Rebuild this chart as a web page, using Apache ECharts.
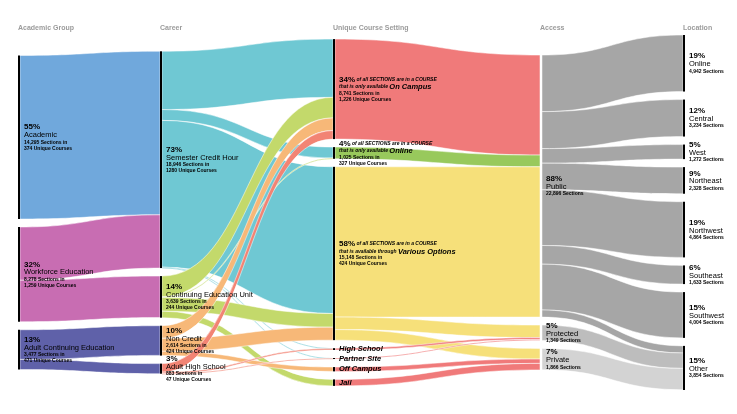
<!DOCTYPE html>
<html><head><meta charset="utf-8">
<script src="https://cdn.jsdelivr.net/npm/echarts@6/dist/echarts.min.js"></script>
<style>html,body{margin:0;padding:0;background:#fff}#c{width:737px;height:414px}</style>
</head><body><div id="c"></div>
<script>
// ---- data ----
const columnTitles = ['Academic Group', 'Career', 'Unique Course Setting', 'Access', 'Location'];

const groupNames = ['Academic', 'Workforce Education', 'Adult Continuing Education'];
const groupPct = ['55%', '32%', '13%'];
const groupSections = [14295, 8278, 3477];
const groupCourses = ['374', '1,259', '471'];

const careerNames = ['Semester Credit Hour', 'Continuing Education Unit', 'Non Credit', 'Adult High School'];
const careerPct = ['73%', '14%', '10%', '3%'];
const careerSections = [18946, 3639, 2614, 883];
const careerCourses = ['1280', '244', '424', '47'];

const settingNames = ['On Campus', 'Online', 'Various Options', 'High School', 'Partner Site', 'Off Campus', 'Jail'];
const settingPct = ['34%', '4%', '58%', '', '', '', ''];
const settingSections = [8741, 1025, 15148, 160, 93, 380, 570];
const settingCourses = ['1,226', '327', '424', '', '', '', ''];
const settingPhrase = ['that is only available', 'that is only available', 'that is available through', '', '', '', ''];

const accessNames = ['Public', 'Protected', 'Private'];
const accessPct = ['88%', '5%', '7%'];
const accessSections = [22896, 1349, 1866];

const locationNames = ['Online', 'Central', 'West', 'Northeast', 'Northwest', 'Southeast', 'Southwest', 'Other'];
const locationPct = ['19%', '12%', '5%', '9%', '19%', '6%', '15%', '15%'];
const locationSections = [4942, 3234, 1272, 2328, 4864, 1633, 4004, 3854];

const groupToCareer = [
  ['Academic', 'Semester Credit Hour', 14295],
  ['Workforce Education', 'Semester Credit Hour', 4651],
  ['Workforce Education', 'Continuing Education Unit', 3627],
  ['Adult Continuing Education', 'Non Credit', 2594],
  ['Adult Continuing Education', 'Adult High School', 883]
];
const careerToSetting = [
  ['Semester Credit Hour', 'On Campus', 5091],
  ['Semester Credit Hour', 'Online', 950],
  ['Semester Credit Hour', 'Various Options', 12820],
  ['Semester Credit Hour', 'High School', 40],
  ['Semester Credit Hour', 'Partner Site', 30],
  ['Continuing Education Unit', 'On Campus', 1800],
  ['Continuing Education Unit', 'Online', 75],
  ['Continuing Education Unit', 'Various Options', 1194],
  ['Continuing Education Unit', 'Jail', 570],
  ['Non Credit', 'On Campus', 1100],
  ['Non Credit', 'Various Options', 1134],
  ['Non Credit', 'Off Campus', 380],
  ['Adult High School', 'On Campus', 750],
  ['Adult High School', 'High School', 120],
  ['Adult High School', 'Partner Site', 13]
];
const settingToAccess = [
  ['On Campus', 'Public', 8741],
  ['Online', 'Public', 1025],
  ['Various Options', 'Public', 13130],
  ['Various Options', 'Protected', 1096],
  ['Various Options', 'Private', 922],
  ['High School', 'Protected', 160],
  ['Partner Site', 'Protected', 93],
  ['Off Campus', 'Private', 380],
  ['Jail', 'Private', 570]
];
const accessToLocation = [
  ['Public', 'Online', 4942],
  ['Public', 'Central', 3234],
  ['Public', 'West', 1272],
  ['Public', 'Northeast', 2328],
  ['Public', 'Northwest', 4864],
  ['Public', 'Southeast', 1633],
  ['Public', 'Southwest', 4004],
  ['Public', 'Other', 619],
  ['Protected', 'Other', 1349],
  ['Private', 'Other', 1866]
];

// ---- styles / layout ----
const FONT = 'Liberation Sans, Arial, sans-serif';
const BOX = {left: 18, right: 52, top: 35, bottom: 24};
const BOX_W = 737 - BOX.left - BOX.right, BOX_H = 414 - BOX.top - BOX.bottom;
const GAP = 8;
const colX = [0, 0.2129, 0.4723, 0.7826, 0.997];
const nodeBarColor = ['#000', '#000', '#000', 'rgba(0,0,0,0)', '#000'];
const flowColors = {
  '0:Academic': '#70a8dc', '0:Workforce Education': '#c86db2', '0:Adult Continuing Education': '#5f61a9',
  '1:Semester Credit Hour': '#6fc8d3', '1:Continuing Education Unit': '#c3d96b', '1:Non Credit': '#f7b878', '1:Adult High School': '#f28474',
  '2:On Campus': '#f07a7a', '2:Online': '#98c95c', '2:Various Options': '#f6e07a', '2:High School': '#f07a7a',
  '2:Partner Site': '#f07a7a', '2:Off Campus': '#f07a7a', '2:Jail': '#f07a7a',
  '3:Public': '#a6a6a6', '3:Protected': '#bdbdbd', '3:Private': '#d3d3d3'
};

const fmt = n => n.toLocaleString('en-US');
const cols = [
  {names: groupNames, label: i => `{p|${groupPct[i]}}\n{n|${groupNames[i]}}\n{d|${fmt(groupSections[i])} Sections in}\n{d|${groupCourses[i]} Unique Courses}`, values: groupSections},
  {names: careerNames, label: i => `{p|${careerPct[i]}}\n{n|${careerNames[i]}}\n{d|${fmt(careerSections[i])} Sections in}\n{d|${careerCourses[i]} Unique Courses}`, values: careerSections},
  {names: settingNames, label: i => settingPct[i]
      ? `{p|${settingPct[i]}}{s| of all SECTIONS are in a COURSE}\n{s|${settingPhrase[i]} }{b|${settingNames[i]}}\n{d|${fmt(settingSections[i])} Sections in}\n{d|${settingCourses[i]} Unique Courses}`
      : `{b|${settingNames[i]}}`, values: settingSections},
  {names: accessNames, label: i => `{p|${accessPct[i]}}\n{n|${accessNames[i]}}\n{d|${fmt(accessSections[i])} Sections}`, values: accessSections},
  {names: locationNames, label: i => `{p|${locationPct[i]}}\n{n|${locationNames[i]}}\n{d|${fmt(locationSections[i])} Sections}`, values: locationSections}
];

const links = [];
const inSum = {}, outSum = {};
[groupToCareer, careerToSetting, settingToAccess, accessToLocation].forEach((stage, si) => stage.forEach(([s, t, v]) => {
  const sid = si + ':' + s, tid = (si + 1) + ':' + t;
  outSum[sid] = (outSum[sid] || 0) + v;
  inSum[tid] = (inSum[tid] || 0) + v;
  links.push({source: sid, target: tid, value: v, lineStyle: {color: flowColors[sid]}});
}));

// node heights follow the same rule as the sankey layout (max of in/out/raw value);
// each column is centred vertically in the layout box.
const effVal = cols.map((c, ci) => c.names.map((nm, i) => {
  const id = ci + ':' + nm;
  return Math.max(c.values[i], inSum[id] || 0, outSum[id] || 0);
}));
const ky = Math.min(...effVal.map(v => (BOX_H - (v.length - 1) * GAP) / v.reduce((a, b) => a + b, 0)));

const nodes = [];
cols.forEach((c, ci) => {
  const vals = effVal[ci];
  const total = vals.reduce((a, b) => a + b, 0) * ky + (vals.length - 1) * GAP;
  let y = (BOX_H - total) / 2;
  c.names.forEach((nm, i) => {
    nodes.push({
      id: ci + ':' + nm, name: nm, value: c.values[i], depth: ci,
      localX: colX[ci], localY: y / BOX_H,
      itemStyle: {color: nodeBarColor[ci]},
      label: {formatter: c.label(i)}
    });
    y += vals[i] * ky + GAP;
  });
});

const chart = echarts.init(document.getElementById('c'));
chart.setOption({
  animation: false,
  graphic: columnTitles.map((t, i) => ({
    type: 'text', left: BOX.left + colX[i] * BOX_W, top: 25,
    style: {text: t, fill: '#9b9b9b', font: 'bold 7px ' + FONT}
  })),
  series: [{
    type: 'sankey', left: BOX.left, right: BOX.right, top: BOX.top, bottom: BOX.bottom,
    nodeWidth: 2, nodeGap: GAP, layoutIterations: 0, draggable: false,
    emphasis: {disabled: true},
    data: nodes, links: links,
    label: {
      position: 'right', distance: 4, color: '#000', fontFamily: FONT, fontSize: 5, lineHeight: 6,
      rich: {
        p: {fontSize: 8, fontWeight: 'bold', lineHeight: 8, fontFamily: FONT},
        n: {fontSize: 7.5, lineHeight: 8, fontFamily: FONT},
        d: {fontSize: 5, fontWeight: 'bold', lineHeight: 6, fontFamily: FONT},
        s: {fontSize: 5, fontWeight: 'bold', fontStyle: 'italic', lineHeight: 7, fontFamily: FONT},
        b: {fontSize: 7.5, fontWeight: 'bold', fontStyle: 'italic', lineHeight: 7, fontFamily: FONT}
      }
    },
    lineStyle: {curveness: 0.5, opacity: 1, borderColor: '#fff', borderWidth: 0.5}
  }]
});
</script></body></html>
